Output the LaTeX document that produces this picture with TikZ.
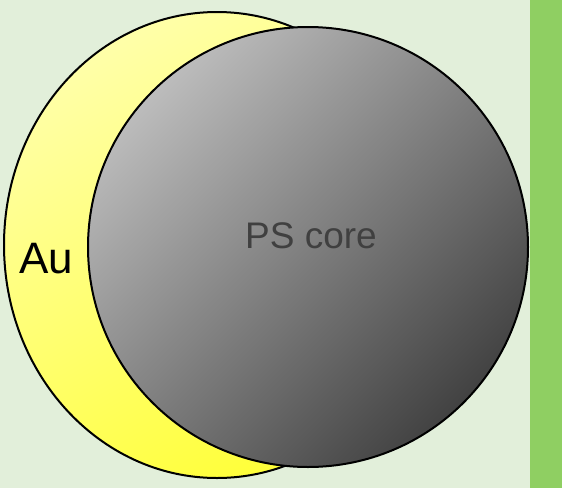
\documentclass[tikz,border=0pt]{standalone}
\usepackage{fontspec}
\setmainfont{Liberation Sans}
\definecolor{bgpale}{HTML}{E2EFDA}
\definecolor{sidebar}{HTML}{8FCF62}
\definecolor{goldlight}{HTML}{FFFFA8}
\definecolor{golddark}{HTML}{FFFF38}
\definecolor{corelight}{HTML}{BCBCBC}
\definecolor{coredark}{HTML}{424242}
\definecolor{coretext}{HTML}{404040}
\usetikzlibrary{positioning}
\tikzset{
  aushell/.style={
    draw=black, line width=2pt,
    top color=goldlight, bottom color=golddark, shading angle=30
  },
  pscore/.style={
    draw=black, line width=2pt,
    top color=corelight, bottom color=coredark, shading angle=45
  },
  partlabel/.style={anchor=base, inner sep=0pt}
}

\begin{document}
\begin{tikzpicture}[x=1pt, y=-1pt]
      \useasboundingbox (0,0) rectangle (562,488);
      \fill[bgpale]  (0,0)   rectangle (562,488);
      \fill[sidebar] (530,0) rectangle (562,488);

      % gold shell, then the core on top
      \draw[aushell] (217,245) ellipse [x radius=213pt, y radius=233pt];
      \draw[pscore]  (308,247) circle [radius=220pt];

      \node[partlabel, font=\fontsize{44}{44}\selectfont] (au) at (46,273) {Au};
      \node[partlabel, font=\fontsize{37}{37}\selectfont, text=coretext] (core) at (311,248) {PS core};
    \end{tikzpicture}
\end{document}
